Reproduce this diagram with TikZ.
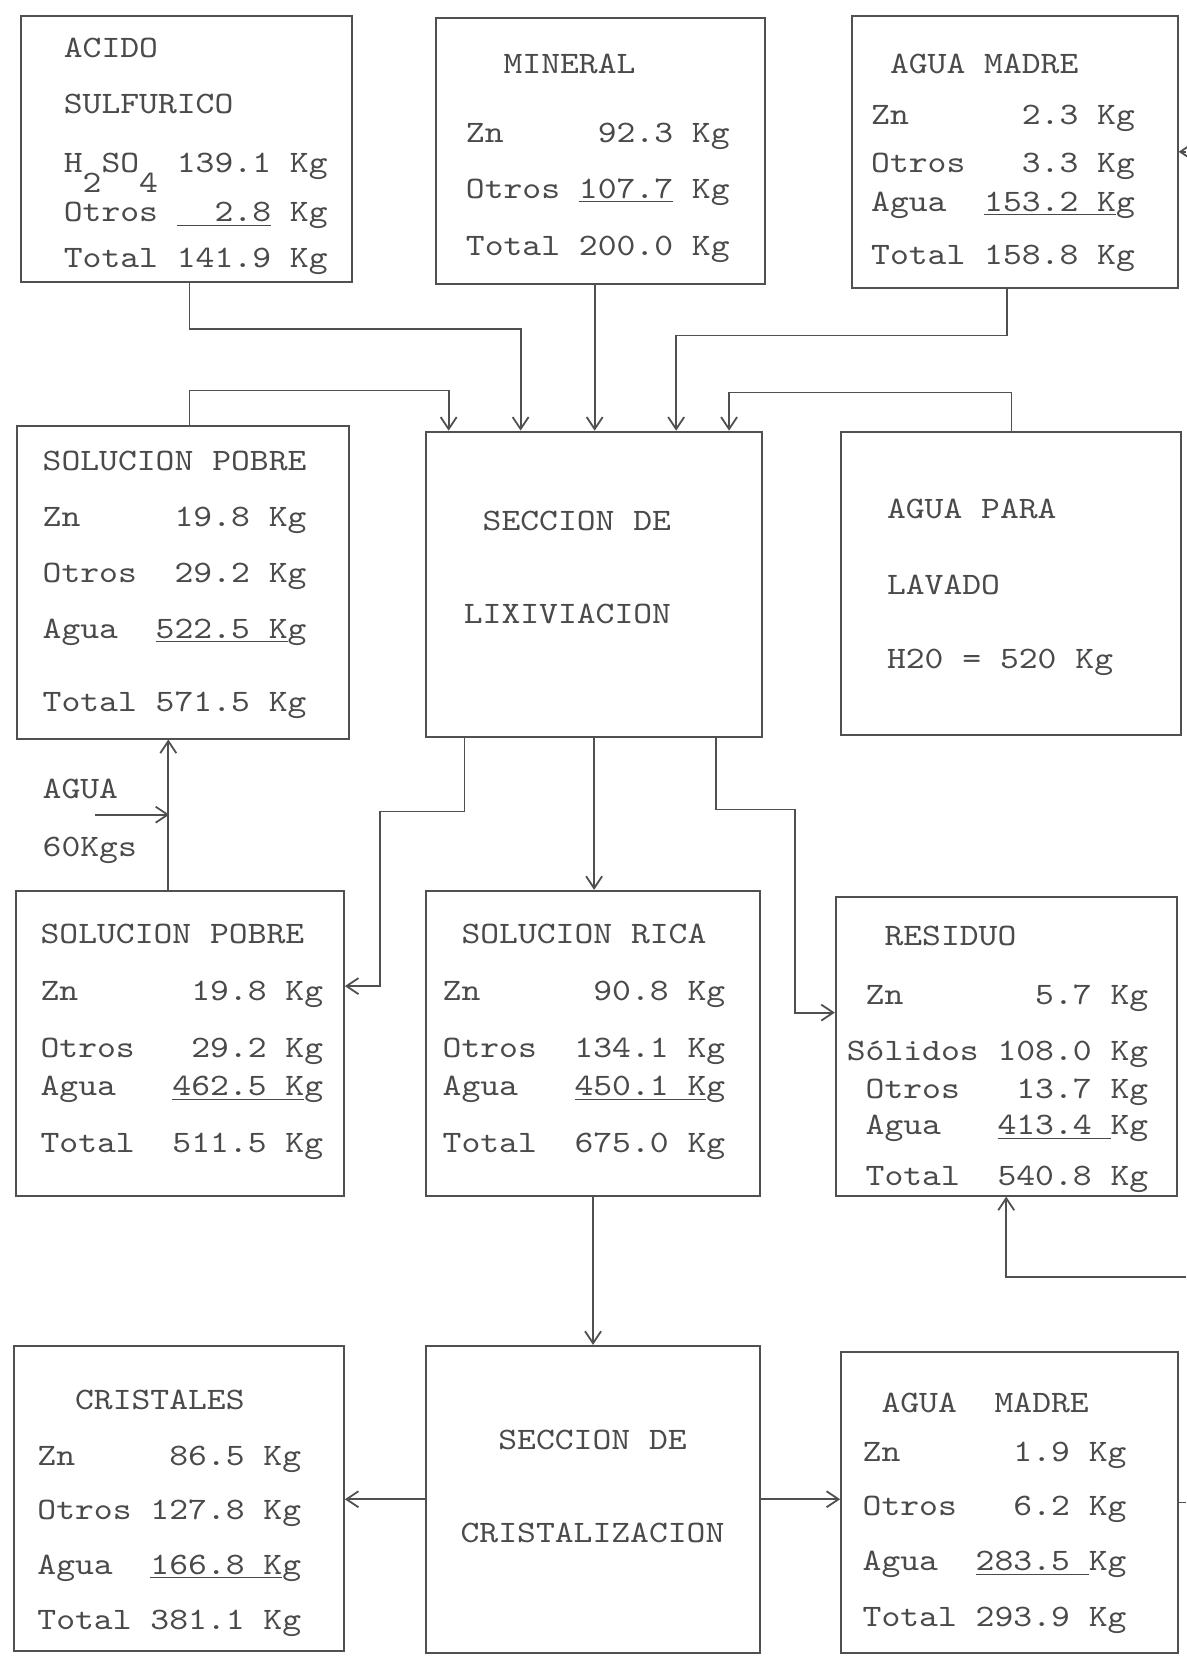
\documentclass[tikz,border=0pt]{standalone}
\usepackage{fontspec}
\setmonofont[FakeStretch=1.15]{lmmono10-regular.otf}
\usetikzlibrary{arrows.meta,calc,fit}
\definecolor{ink}{HTML}{4A4A4A}
\definecolor{wire}{HTML}{505050}
\newlength\pxu
\setlength\pxu{0.529pt}
\newcommand\sub[1]{\raisebox{-19\pxu}[0pt][0pt]{#1}}

\begin{document}
\begin{tikzpicture}[x=0.529pt,y=-0.529pt,>={Straight Barb[length=6pt,width=8pt]},
  flowbox/.style={draw=wire,line width=1pt,inner sep=0pt},
  boxtext/.style={anchor=north west,inner sep=0pt,align=left,text=ink,
    font=\ttfamily\fontsize{15.6pt}{19.04pt}\selectfont},
  flow/.style={->,draw=wire,line width=.9pt}]
  \useasboundingbox[fill=white] (0,0) rectangle (1121,1568);

  % boxes
  \node[flowbox,fit={(20,15) (333,267)}] (acido) {};
  \node[flowbox,fit={(412,17) (723,268)}] (mineral) {};
  \node[flowbox,fit={(805,15) (1113,272)}] (madreA) {};
  \node[flowbox,fit={(16,403) (330,698)}] (pobreA) {};
  \node[flowbox,fit={(403,408) (720,697)}] (lix) {};
  \node[flowbox,fit={(795,408) (1116,695)}] (lavado) {};
  \node[flowbox,fit={(15,842) (325,1130)}] (pobreB) {};
  \node[flowbox,fit={(403,842) (718,1130)}] (rica) {};
  \node[flowbox,fit={(790,848) (1112,1130)}] (residuo) {};
  \node[flowbox,fit={(13,1272) (325,1560)}] (cristales) {};
  \node[flowbox,fit={(403,1272) (718,1562)}] (cris) {};
  \node[flowbox,fit={(795,1278) (1113,1562)}] (madreB) {};

  % texts
  \node[boxtext] (acidoT) at (60,36) {ACIDO\\[17\pxu]
    SULFURICO\\[19\pxu]
    H\sub{2}SO\sub{4} 139.1 Kg\\[11\pxu]
    Otros \underline{~~2.8} Kg\\[7\pxu]
    Total 141.9 Kg};
  \node[boxtext] (mineralT) at (440,51) {~~MINERAL\\[29\pxu]
    Zn~~~~~92.3 Kg\\[17\pxu]
    Otros \underline{107.7} Kg\\[18\pxu]
    Total 200.0 Kg};
  \node[boxtext] (madreAT) at (823,51) {~AGUA MADRE\\[12\pxu]
    Zn~~~~~~2.3 Kg\\[9\pxu]
    Otros~~~3.3 Kg\\[1\pxu]
    Agua~~\underline{153.2~K}g\\[14\pxu]
    Total 158.8 Kg};
  \node[boxtext] (pobreAT) at (40,426) {SOLUCION POBRE\\[17\pxu]
    Zn~~~~~19.8 Kg\\[17\pxu]
    Otros~~29.2 Kg\\[17\pxu]
    Agua~~\underline{522.5~K}g\\[33\pxu]
    Total 571.5 Kg};
  \node[boxtext] (lixT) at (438,483) {~SECCION DE\\[52\pxu]
    LIXIVIACION};
  \node[boxtext] (lavadoT) at (838,471) {AGUA PARA\\[36\pxu]
    LAVADO\\[34\pxu]
    H20 = 520 Kg};
  \node[boxtext] (pobreBT) at (38,873) {SOLUCION POBRE\\[18\pxu]
    Zn~~~~~~19.8 Kg\\[18\pxu]
    Otros~~~29.2 Kg\\
    Agua~~~\underline{462.5~K}g\\[18\pxu]
    Total~~511.5 Kg};
  \node[boxtext] (ricaT) at (418,873) {~SOLUCION RICA\\[18\pxu]
    Zn~~~~~~90.8 Kg\\[18\pxu]
    Otros~~134.1 Kg\\
    Agua~~~\underline{450.1~K}g\\[18\pxu]
    Total~~675.0 Kg};
  \node[boxtext] (residuoT) at (800,875) {~~RESIDUO\\[20\pxu]
    ~Zn~~~~~~~5.7 Kg\\[17\pxu]
    Sólidos 108.0 Kg\\
    ~Otros~~~13.7 Kg\\[-2\pxu]
    ~Agua~~~\underline{413.4~}Kg\\[12\pxu]
    ~Total~~540.8 Kg};
  \node[boxtext] (cristalesT) at (35,1313) {~~CRISTALES\\[17\pxu]
    Zn~~~~~86.5 Kg\\[15\pxu]
    Otros 127.8 Kg\\[16\pxu]
    Agua~~\underline{166.8~K}g\\[16\pxu]
    Total 381.1 Kg};
  \node[boxtext] (crisT) at (435,1351) {~~SECCION DE\\[52\pxu]
    CRISTALIZACION};
  \node[boxtext] (madreBT) at (815,1316) {~AGUA~~MADRE\\[11\pxu]
    Zn~~~~~~1.9 Kg\\[15\pxu]
    Otros~~~6.2 Kg\\[16\pxu]
    Agua~~\underline{283.5~}Kg\\[17\pxu]
    Total 293.9 Kg};
  \node[boxtext] (aguaT) at (40,736) {AGUA\\[19\pxu]
    60Kgs};

  % feeds into the leaching section
  \draw[flow] ($(acido.south west)+(160,0)$) |- ($(lix.north west)+(90,-96)$)
    -- ($(lix.north west)+(90,0)$);
  \draw[flow] ($(mineral.south west)+(151,0)$) -- ($(lix.north west)+(160,0)$);
  \draw[flow] ($(madreA.south west)+(148,0)$) |- ($(lix.north west)+(237,-90)$)
    -- ($(lix.north west)+(237,0)$);
  \draw[flow] ($(lavado.north west)+(162,0)$) |- ($(lix.north west)+(287,-36)$)
    -- ($(lix.north west)+(287,0)$);
  \draw[flow] ($(pobreA.north west)+(164,0)$) |- ($(lix.north west)+(22,-38)$)
    -- ($(lix.north west)+(22,0)$);

  % out of the leaching section
  \draw[flow] ($(lix.south west)+(37,0)$) |- ($(pobreB.north east)+(33,-74)$)
    |- ($(pobreB.north east)+(0,91)$);
  \draw[flow] (lix.south) -- (lix.south |- rica.north);
  \draw[flow] ($(lix.south west)+(275,0)$) |- ($(residuo.north west)+(-38,-82)$)
    |- ($(residuo.north west)+(0,110)$);

  % wash water
  \draw[flow] ($(pobreB.north west)+(145,0)$) -- ($(pobreA.south west)+(144,0)$);
  \coordinate (aguafeed) at (90,770);
  \coordinate (aguajoin) at (160,770);
  \draw[flow] (aguafeed) -- (aguajoin);

  % crystallization
  \draw[flow] (rica.south) -- (rica.south |- cris.north);
  \draw[flow] (cris.west) -- (cris.west -| cristales.east);
  \draw[flow] (cris.east) -- (cris.east -| madreB.west);

  % returns along the right edge
  \coordinate (edgeR) at (1121,1207);
  \draw[flow] (edgeR) -| (residuo.south);
  \draw[draw=wire,line width=.9pt] (madreB.east) -- (madreB.east -| edgeR);
  \draw[flow] (madreA.east -| edgeR) -- (madreA.east);
\end{tikzpicture}
\end{document}
